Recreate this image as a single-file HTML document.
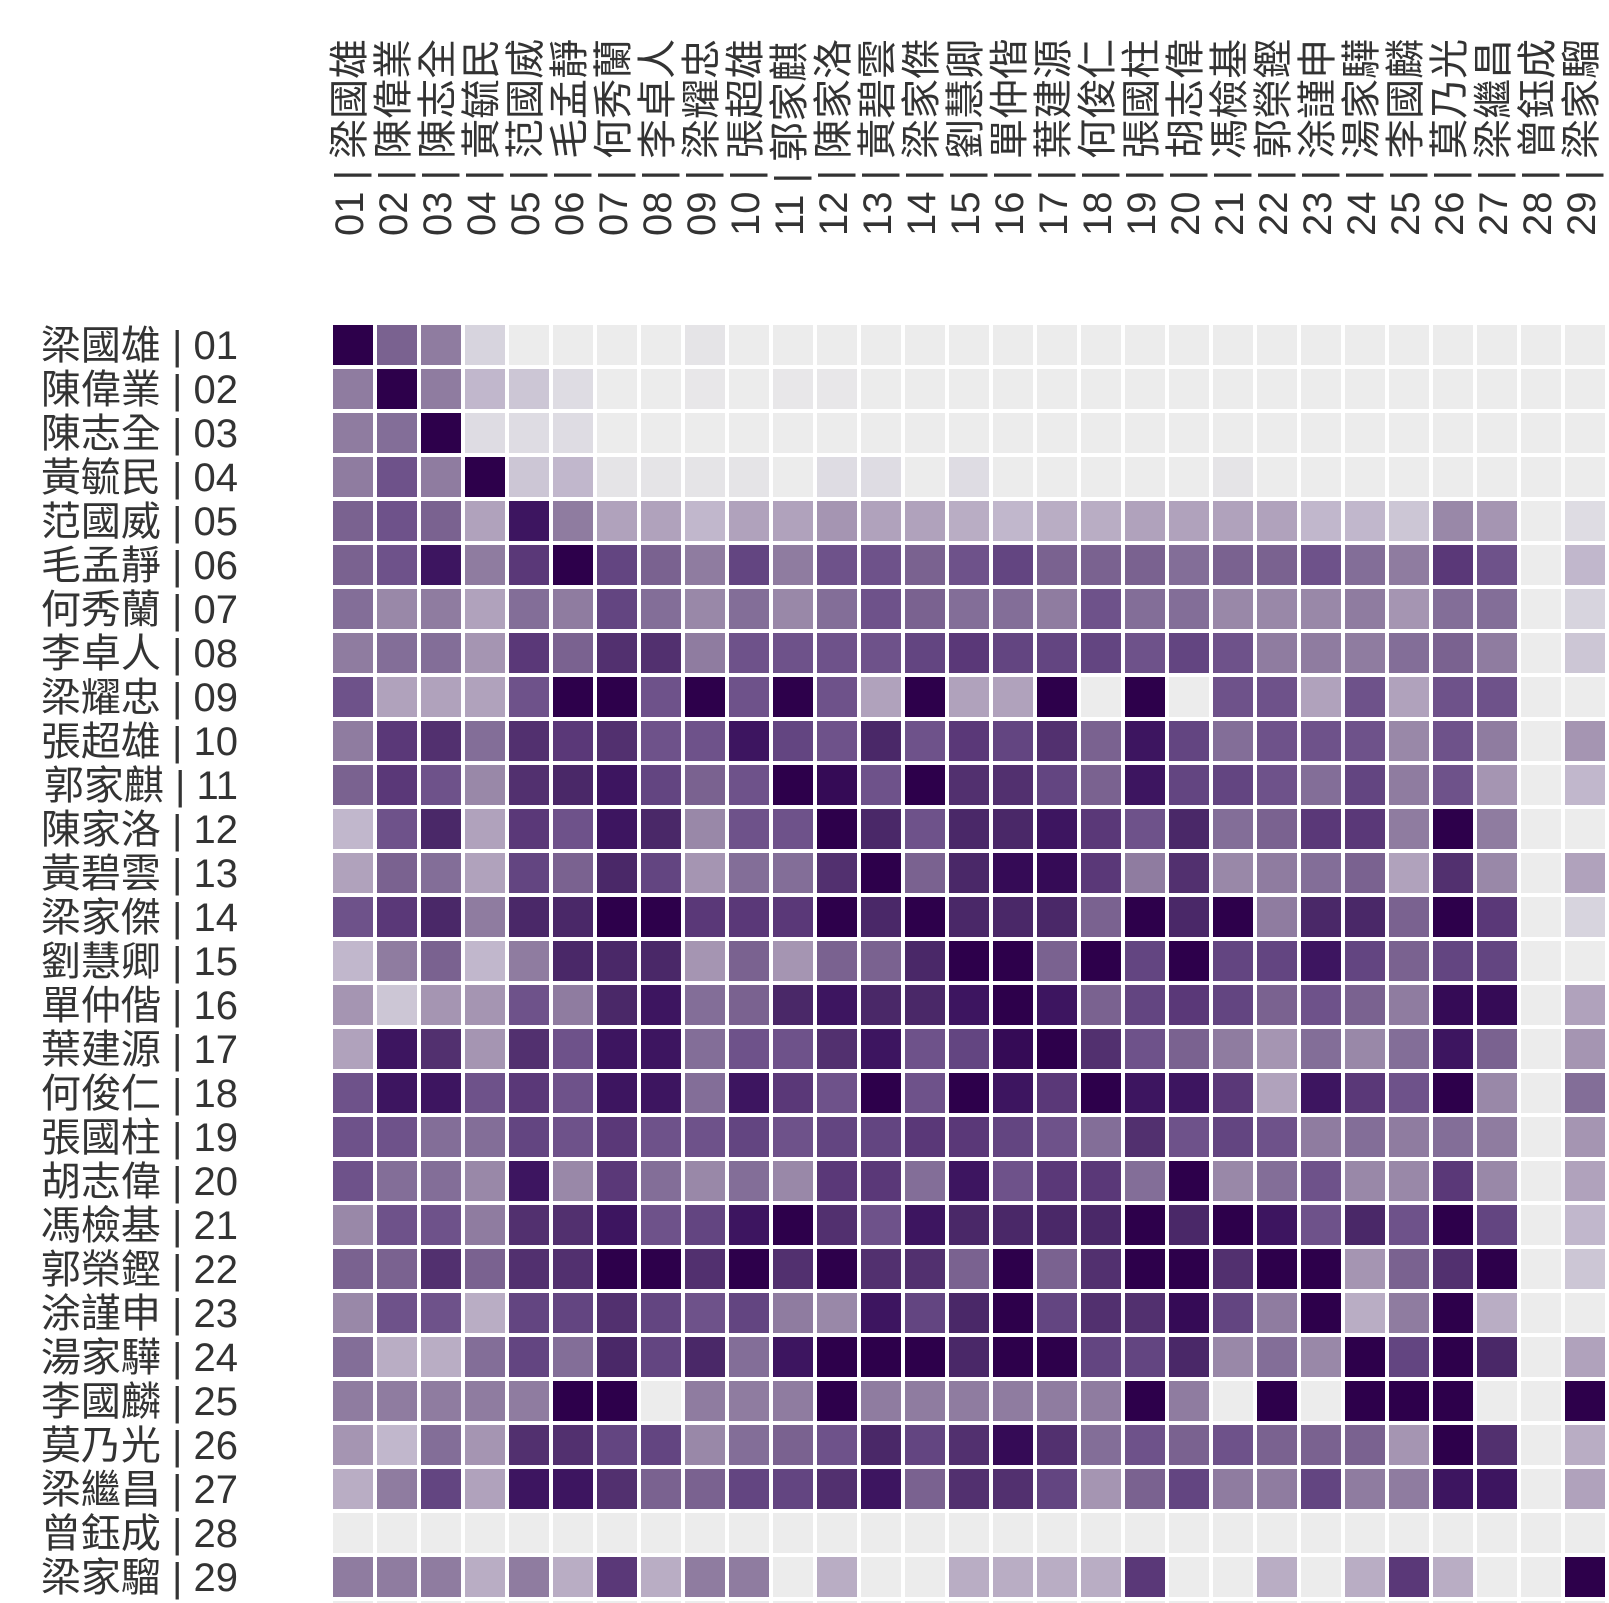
<!DOCTYPE html>
<html><head><meta charset="utf-8">
<style>
html,body{margin:0;padding:0;background:#fff;}
svg{display:block;}
text{font-family:"Liberation Sans","Noto Sans CJK TC",sans-serif;fill:#333;}
</style></head>
<body>
<svg id="chart" width="1609" height="1603" viewBox="0 0 1609 1603" xmlns="http://www.w3.org/2000/svg">
<g id="cells"></g>
<g id="rowlabels"></g>
<g id="collabels"></g>
</svg>
<script>
const names = ["梁國雄","陳偉業","陳志全","黃毓民","范國威","毛孟靜","何秀蘭","李卓人","梁耀忠","張超雄","郭家麒","陳家洛","黃碧雲","梁家傑","劉慧卿","單仲偕","葉建源","何俊仁","張國柱","胡志偉","馮檢基","郭榮鏗","涂謹申","湯家驊","李國麟","莫乃光","梁繼昌","曾鈺成","梁家騮"];
const codes = ["01","02","03","04","05","06","07","08","09","10","11","12","13","14","15","16","17","18","19","20","21","22","23","24","25","26","27","28","29"];
const row01 = [10,6,5,1.5,0,0,0,0,0.5,0,0,0,0,0,0,0,0,0,0,0,0,0,0,0,0,0,0,0,0];
const row02 = [5,10,5,2.5,2,1,0,0,0.3,0,0.3,0.3,0,0,0,0,0,0,0,0,0,0,0,0,0,0,0,0,0];
const row03 = [5,5.5,10,1,1,1,0,0,0,0,0,0,0,0,0,0,0,0,0,0,0,0,0,0,0,0,0,0,0];
const row04 = [5,6.5,5,10,2,2.5,0.5,0.5,0.5,0.5,0,1,1,0,1,0,0,0,0,0,0.5,0,0,0,0,0,0,0,0];
const row05 = [6,6.5,6,3.5,9,5,3.5,3.5,2.5,3.5,3.5,4,3.5,3.5,3,2.5,3,3,3.5,3.5,3.5,3.5,2.5,2.5,2,4.5,4,0,1];
const row06 = [6,6.5,9,5,7.5,10,7,6,5,7,5,6.5,6.5,6,6.5,7,6,6,6,5.5,6,6,6.5,5.5,5,7.5,6.5,0,2.5];
const row07 = [5.5,4.5,5,3.5,5.5,5,7,5.5,4.5,5.5,4.5,5.5,6.5,6,5.5,5.5,5,6.5,5.5,5.5,4.5,4.5,4.5,5,4,5.5,5.5,0,1.5];
const row08 = [5,5.5,5.5,4,7.5,6,8,8,5,6.5,6.5,6.5,6.5,7,7.5,7,7,7,6.5,7,6.5,5,5,5,5.5,6,5,0,2];
const row09 = [6.5,3.5,3.5,3.5,6.5,10,10,6.5,10,6.5,10,6.5,3.5,10,3.5,3.5,10,0,10,0,6.5,6.5,3.5,6.5,3.5,6.5,6.5,0,0];
const row10 = [5,7.5,8,5.5,8,7.5,8,6.5,6.5,9,7,6.5,8.5,6.5,7.5,7,8,6,9,7,5.5,6.5,6.5,6.5,4.5,6.5,5,0,4];
const row11 = [6,7.5,6.5,4.5,8,8.5,9,7,6,6.5,10,9.5,6.5,10,8,8,7,6,9,7,7,6.5,5.5,7,5,6.5,4,0,2.5];
const row12 = [2.5,6.5,8.5,3.5,7.5,6.5,9,8.5,4.5,6.5,6.5,10,8.5,6.5,8.5,8.5,9,7.5,6.5,8.5,5.5,6,7.5,7.5,5,10,5,0,0];
const row13 = [3.5,6,5.5,3.5,7,6,8.5,7,4,5.5,5.5,8,10,6,8.5,9.5,9.5,7.5,5,8,4.5,5,5.5,6,3.5,8,4.5,0,3.5];
const row14 = [6.5,7.5,8.5,5,8.5,8.5,10,10,7.5,7.5,7.5,10,8.5,10,8.5,8.5,8.5,6,10,8.5,10,5,8.5,8.5,6,10,7.5,0,1.5];
const row15 = [2.5,5,6,2.5,5,8.5,8.5,8.5,4,6,4,6,6,8.5,10,10,6,10,7,10,7,7,9,7,6,7,7,0,0];
const row16 = [4,2,4,4,6.5,5,8.5,9,5.5,6,8.5,9,8.5,8.5,9,10,9,6,7,7.5,7,6,6.5,6,5,9.5,9.5,0,3.5];
const row17 = [3.5,9,8,4,8,6.5,9,9,5.5,6.5,6.5,8,9,6.5,7,9.5,10,8,6.5,6,5,4,5.5,4.5,5.5,9,6,0,4];
const row18 = [6.5,9,9,6.5,7.5,6.5,9,9,5.5,9,7.5,6.5,10,6.5,10,9,7.5,10,9,9,7.5,3.5,9,7.5,6.5,10,4.5,0,5.5];
const row19 = [6.5,6.5,5.5,5.5,7,6.5,7.5,6.5,6.5,7,6.5,7,7,7.5,7.5,7,6.5,5.5,8,6.5,7,6.5,5,5.5,5,5.5,5,0,4];
const row20 = [6.5,5.5,5.5,4.5,9,4.5,7.5,5.5,4.5,5.5,4.5,7.5,7.5,5.5,9,6.5,7.5,7.5,5.5,10,4.5,5.5,6.5,4.5,4.5,7.5,4.5,0,3.5];
const row21 = [4.5,6.5,6.5,5,8,8,9,6.5,7,9,10,8,6.5,9,8.5,8.5,8.5,8.5,10,8.5,10,9,6.5,8.5,6.5,10,7,0,2.5];
const row22 = [6,6,8,6,8,8,10,10,8,10,8,10,8,8,6,10,6,8,10,10,8,10,10,4,6,8,10,0,2];
const row23 = [4.5,6.5,6.5,3,7,7,8,7,6.5,7,5,4.5,9,7,8.5,10,7,8,8,9.5,7,5,10,3,5,10,3,0,0];
const row24 = [5.5,3,3,5.5,7,5.5,8.5,7,8.5,5.5,9,10,10,10,8.5,10,10,7,7,8.5,4.5,5.5,4.5,10,7,10,8.5,0,3.5];
const row25 = [5,5,5,5,5,10,10,0,5,5,5,10,5,5,5,5,5,5,10,5,0,10,0,10,10,10,0,0,10];
const row26 = [4,2.5,5.5,4,8,8,7,7,4.5,5.5,6,6.5,8.5,7,8,9.5,8,5.5,6.5,6,6.5,6,6,6,4,10,8,0,3];
const row27 = [3,5,7,3.5,9,9,8,6,6,7,7,8,9,6,8,8,7,4,6,7,5,5,7,5,5,9,9,0,3.5];
const row28 = [0,0,0,0,0,0,0,0,0,0,0,0,0,0,0,0,0,0,0,0,0,0,0,0,0,0,0,0,0];
const row29 = [5,5,5,3,5,3,7.5,3,5,5,0,3,0,0,3,3,3,3,7.5,0,0,3,0,3,7.5,3,0,0,10];
const row30 = [0,0,0,0,0,0,0,0,0,0,0,0,0,0,0,0,0,0,0,0,0,0,0,0,0,0,0,0,0];
const matrix = [row01,row02,row03,row04,row05,row06,row07,row08,row09,row10,row11,row12,row13,row14,row15,row16,row17,row18,row19,row20,row21,row22,row23,row24,row25,row26,row27,row28,row29,row30];

const NS = "http://www.w3.org/2000/svg";
const X0 = 333, Y0 = 325, STEP = 44, CELL = 40;
function xPos(c){ return X0 + c*STEP; }
function yPos(r){ return Y0 + r*STEP; }
const stops = [[0,[236,236,236]],[0.15,[215,212,222]],[0.25,[193,183,204]],[0.35,[176,162,188]],[0.45,[153,136,168]],[0.5,[143,124,160]],[0.55,[131,110,152]],[0.6,[122,98,144]],[0.65,[110,82,138]],[0.7,[99,69,129]],[0.75,[90,56,120]],[0.8,[82,48,111]],[0.85,[74,40,104]],[0.9,[61,21,96]],[1,[45,0,75]]];
function colorOf(v){
  const t = Math.max(0, Math.min(1, v/10));
  for (let i=1;i<stops.length;i++){
    if (t <= stops[i][0]){
      const a = stops[i-1], b = stops[i];
      const f = (t - a[0])/(b[0]-a[0]);
      const c = a[1].map((x,k)=>Math.round(x + (b[1][k]-x)*f));
      return "rgb("+c.join(",")+")";
    }
  }
  return "rgb(45,0,75)";
}
const gCells = document.getElementById("cells");
matrix.forEach((row, r) => {
  row.forEach((v, c) => {
    const rect = document.createElementNS(NS, "rect");
    rect.setAttribute("x", xPos(c));
    rect.setAttribute("y", yPos(r));
    rect.setAttribute("width", CELL);
    rect.setAttribute("height", CELL);
    rect.setAttribute("fill", colorOf(v));
    
    
    gCells.appendChild(rect);
  });
});
const gRow = document.getElementById("rowlabels");
const gCol = document.getElementById("collabels");
names.forEach((n, i) => {
  const t = document.createElementNS(NS, "text");
  t.setAttribute("x", 238);
  t.setAttribute("y", yPos(i) + CELL/2 + 14);
  t.setAttribute("text-anchor", "end");
  t.setAttribute("font-size", "40");
  t.textContent = n + " | " + codes[i];
  
  
  gRow.appendChild(t);
  const ct = document.createElementNS(NS, "text");
  const cx = xPos(i) + CELL/2 - 4 + 14;
  ct.setAttribute("transform", "translate(" + cx + ",236) rotate(-90)");
  ct.setAttribute("text-anchor", "start");
  ct.setAttribute("font-size", "40");
  ct.textContent = codes[i] + " | " + n;
  
  
  gCol.appendChild(ct);
});
</script>
</body></html>
